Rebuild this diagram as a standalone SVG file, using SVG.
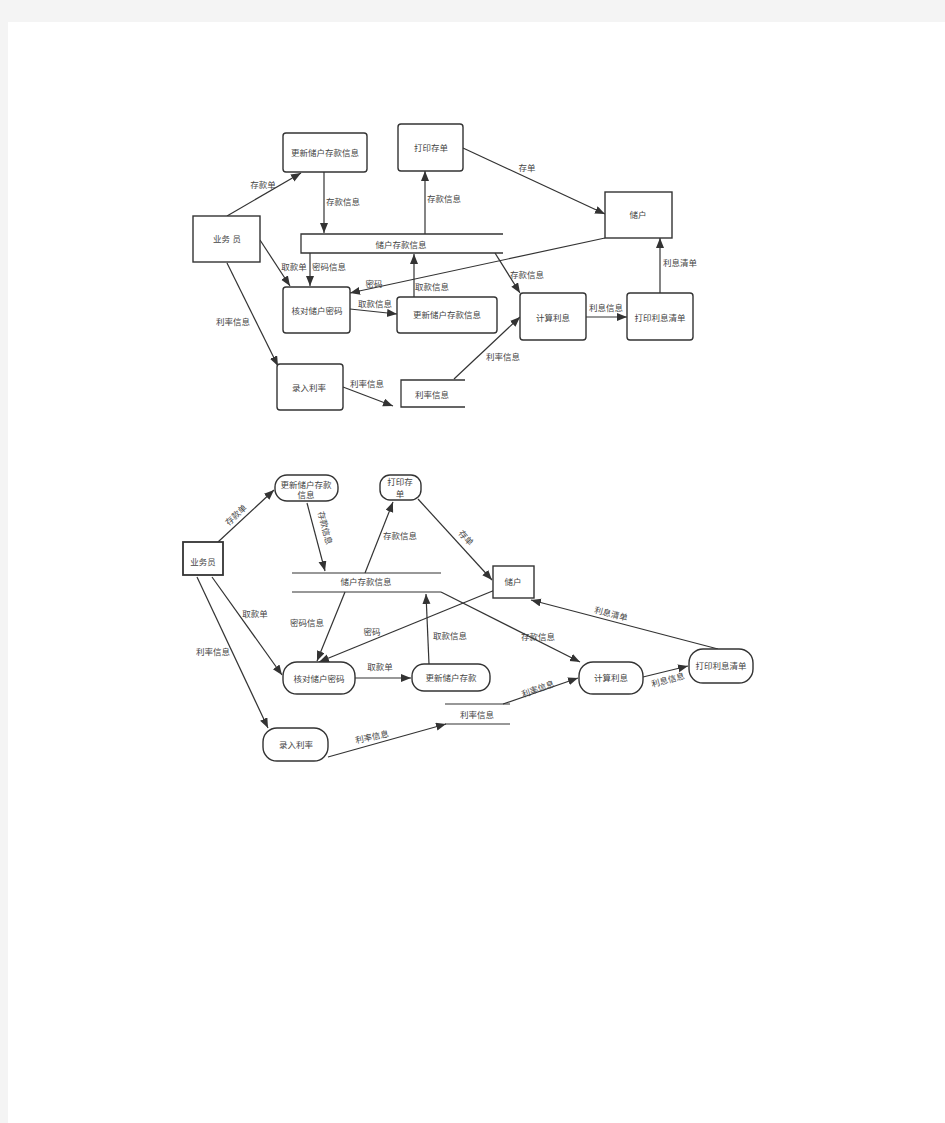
<svg xmlns="http://www.w3.org/2000/svg" width="945" height="1123" viewBox="0 0 945 1123">
<style>
.box{fill:#fff;stroke:#333;stroke-width:1.4}
.st{fill:none;stroke:#333;stroke-width:1.3}
.e{fill:none;stroke:#333;stroke-width:1.2;marker-end:url(#ah)}
.ln{fill:none;stroke:#333;stroke-width:1.2}
text{font-family:"Liberation Sans","Noto Sans CJK SC",sans-serif;font-size:8.5px;fill:#444;text-anchor:middle;dominant-baseline:central}
</style>
<defs>
<marker id="ah" markerUnits="userSpaceOnUse" markerWidth="12" markerHeight="10" refX="10" refY="4" orient="auto">
<path d="M0,0 L10,4 L0,8 Z" fill="#333"/>
</marker>
</defs>
<rect x="0" y="0" width="945" height="1123" fill="#f4f4f4"/>
<rect x="8" y="22" width="937" height="1101" fill="#fff"/>

<!-- ===== Top diagram ===== -->
<g id="connectors-top">
<path class="e" d="M227,216 L301,173"/><text x="263" y="185">存款单</text>
<path class="e" d="M324,172 L324,233"/><text x="343" y="202">存款信息</text>
<path class="e" d="M425,234 L425,171"/><text x="444" y="199">存款信息</text>
<path class="e" d="M463,148 L605,214"/><text x="527" y="168">存单</text>
<path class="e" d="M605,238 L350,293"/><text x="374" y="284">密码</text>
<path class="e" d="M660,293 L660,238"/><text x="680" y="263">利息清单</text>
<path class="e" d="M586,317 L627,317"/><text x="606" y="308">利息信息</text>
<path class="e" d="M495,253 L520,293"/><text x="527" y="275">存款信息</text>
<path class="e" d="M260,240 L290,286"/><text x="294" y="267">取款单</text>
<path class="e" d="M310,253 L310,286"/><text x="329" y="267">密码信息</text>
<path class="e" d="M350,309 L397,314"/><text x="375" y="304">取款信息</text>
<path class="e" d="M414,297 L414,254"/><text x="432" y="287">取款信息</text>
<path class="e" d="M227,263 L278,366"/><text x="233" y="322">利率信息</text>
<path class="e" d="M343,387 L393,406"/><text x="367" y="384">利率信息</text>
<path class="e" d="M454,379 L520,317"/><text x="503" y="357">利率信息</text>
</g>

<g id="t-yewuyuan"><rect class="box" x="193" y="216" width="67" height="46"/><text x="227" y="239">业务 员</text></g>
<g id="t-gengxin1"><rect class="box" x="283" y="133" width="84" height="39" rx="3"/><text x="325" y="153">更新储户存款信息</text></g>
<g id="t-dayincundan"><rect class="box" x="398" y="124" width="65" height="47" rx="3"/><text x="431" y="148">打印存单</text></g>
<g id="t-chuhu"><rect class="box" x="605" y="192" width="67" height="46"/><text x="638" y="215">储户</text></g>
<g id="t-store1"><path class="st" d="M503,234 H301 V253 H503"/><text x="401" y="245">储户存款信息</text></g>
<g id="t-hedui"><rect class="box" x="283" y="287" width="67" height="46" rx="3"/><text x="317" y="311">核对储户密码</text></g>
<g id="t-gengxin2"><rect class="box" x="397" y="297" width="100" height="36" rx="3"/><text x="447" y="315">更新储户存款信息</text></g>
<g id="t-jisuan"><rect class="box" x="520" y="293" width="66" height="47" rx="3"/><text x="553" y="318">计算利息</text></g>
<g id="t-dayinlixi"><rect class="box" x="627" y="293" width="66" height="47" rx="3"/><text x="660" y="318">打印利息清单</text></g>
<g id="t-luru"><rect class="box" x="277" y="364" width="66" height="46" rx="3"/><text x="309" y="388">录入利率</text></g>
<g id="t-store2"><path class="st" d="M465,380 H401 V407 H465"/><text x="432" y="395">利率信息</text></g>

<!-- ===== Bottom diagram ===== -->
<g id="connectors-bottom">
<path class="e" d="M218,542 L274,490"/><text x="236" y="515" transform="rotate(-43 236 515)">存款单</text>
<path class="e" d="M307,503 L325,571"/><text x="325" y="528" transform="rotate(75 325 528)">存款信息</text>
<path class="e" d="M365,573 L393,502"/><text x="400" y="536">存款信息</text>
<path class="e" d="M418,499 L492,580"/><text x="466" y="538" transform="rotate(47 466 538)">存单</text>
<path class="e" d="M718,649 L531,600"/><text x="611" y="614" transform="rotate(14 611 614)">利息清单</text>
<path class="e" d="M495,590 L319,662"/><text x="372" y="632">密码</text>
<path class="e" d="M345,592 L317,661"/><text x="307" y="623">密码信息</text>
<path class="e" d="M212,577 L282,675"/><text x="255" y="614">取款单</text>
<path class="e" d="M197,577 L268,728"/><text x="213" y="652">利率信息</text>
<path class="e" d="M355,678 L411,678"/><text x="380" y="667">取款单</text>
<path class="e" d="M429,664 L426,594"/><text x="450" y="636">取款信息</text>
<path class="e" d="M441,592 L580,662"/><text x="538" y="637">存款信息</text>
<path class="e" d="M643,677 L688,666"/><text x="668" y="680" transform="rotate(-15 668 680)">利息信息</text>
<path class="e" d="M328,757 L446,724"/><text x="372" y="737" transform="rotate(-12 372 737)">利率信息</text>
<path class="e" d="M503,704 L578,678"/><text x="538" y="689" transform="rotate(-19 538 689)">利率信息</text>
</g>

<g id="b-yewuyuan"><rect class="box" x="183" y="542" width="40" height="33" style="stroke-width:1.8"/><text x="203" y="562">业务员</text></g>
<g id="b-gengxin1"><rect class="box" x="275" y="475" width="63" height="26" rx="12"/><text x="306" y="485">更新储户存款</text><text x="306" y="495">信息</text></g>
<g id="b-dayincundan"><rect class="box" x="380" y="475" width="41" height="25" rx="10"/><text x="400" y="482">打印存</text><text x="400" y="494">单</text></g>
<g id="b-chuhu"><rect class="box" x="493" y="566" width="41" height="32"/><text x="513" y="582">储户</text></g>
<g id="b-store1"><path class="ln" d="M292,573 H441 M292,592 H441"/><text x="366" y="582">储户存款信息</text></g>
<g id="b-hedui"><rect class="box" x="283" y="662" width="72" height="32" rx="14"/><text x="319" y="679">核对储户密码</text></g>
<g id="b-gengxin2"><rect class="box" x="412" y="664" width="78" height="27" rx="12"/><text x="451" y="678">更新储户存款</text></g>
<g id="b-jisuan"><rect class="box" x="579" y="662" width="64" height="32" rx="14"/><text x="611" y="678">计算利息</text></g>
<g id="b-dayinlixi"><rect class="box" x="689" y="649" width="64" height="34" rx="14"/><text x="721" y="666">打印利息清单</text></g>
<g id="b-luru"><rect class="box" x="263" y="728" width="65" height="33" rx="14"/><text x="296" y="745">录入利率</text></g>
<g id="b-store2"><path class="ln" d="M445,704 H510 M445,724 H510"/><text x="477" y="715">利率信息</text></g>
</svg>
